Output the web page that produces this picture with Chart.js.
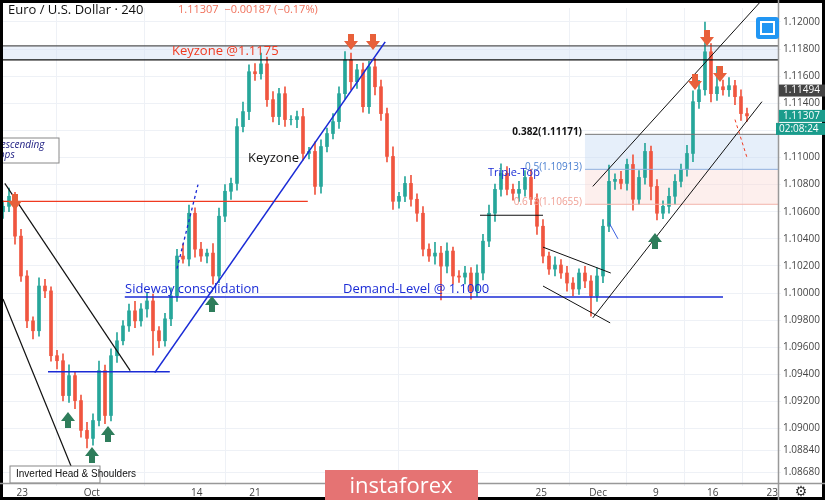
<!DOCTYPE html>
<html><head><meta charset="utf-8">
<script src="https://cdn.jsdelivr.net/npm/chart.js@4/dist/chart.umd.min.js"></script>
<style>html,body{margin:0;padding:0;background:#fff}#w{position:relative;width:825px;height:500px}</style>
</head><body><div id="w"><canvas id="c" width="825" height="500"></canvas></div>
<script>
// 12h-aggregated candles, Euro / U.S. Dollar
const firstOpen = 1.10600;
const closes = [1.10640,1.10714,1.10420,1.10126,1.09795,1.09722,1.10052,1.10016,1.09538,1.09501,
1.09244,1.09391,1.09207,1.08987,1.08928,1.09060,1.09428,1.09097,1.09538,1.09648,
1.09758,1.09869,1.09795,1.09883,1.09942,1.09722,1.09648,1.09810,1.09979,1.10273,
1.10251,1.10589,1.10324,1.10273,1.10295,1.10126,1.10567,1.10751,1.10809,1.11228,
1.11339,1.11633,1.11618,1.11691,1.11427,1.11302,1.11471,1.11280,1.11280,1.11302,
1.11030,1.11045,1.10787,1.11081,1.11177,1.11265,1.11471,1.11721,1.11559,1.11647,
1.11375,1.11669,1.11522,1.11324,1.11008,1.10677,1.10714,1.10809,1.10692,1.10589,
1.10324,1.10273,1.10295,1.10199,1.10310,1.10126,1.10118,1.10148,1.10016,1.10148,
1.10383,1.10589,1.10765,1.10883,1.10765,1.10736,1.10765,1.10853,1.10692,1.10493,
1.10273,1.10177,1.10207,1.10148,1.10074,1.10030,1.10148,1.10089,1.09979,1.10126,
1.10493,1.10824,1.10839,1.10809,1.10949,1.10692,1.10853,1.11045,1.10787,1.10589,
1.10640,1.10714,1.10824,1.10912,1.11030,1.11412,1.11500,1.11780,1.11471,1.11522,
1.11500,1.11530,1.11449,1.11324,1.11307];
// wick extensions in pips (0.0001)
const wickUp = [4,6,3,5,4,3,6,5,3,4, 5,8,3,4,6,5,7,4,5,6, 4,5,7,4,6,5,3,4,6,5, 9,6,4,5,3,7,6,5,4,6, 7,5,6,8,5,6,4,5,3,4, 6,3,7,5,4,6,5,6,5,4, 5,4,6,5,4,7,3,5,6,4, 5,4,8,5,6,3,4,5,4,6, 5,6,4,7,5,4,6,5,6,4, 5,3,6,4,5,4,3,5,4,6, 5,12,4,6,4,7,5,6,4,5, 4,6,5,4,6,8,7,22,6,15, 5,6,4,5,4];
const wickDn = [5,4,6,4,5,6,4,5,4,6, 4,5,6,5,7,5,4,6,4,5, 3,4,5,4,6,18,5,4,5,4, 3,5,6,4,5,6,5,4,6,5, 4,6,5,4,5,4,6,5,4,6, 5,4,6,5,4,4,5,4,6,5, 4,5,6,5,4,6,5,4,5,6, 5,4,6,25,5,6,4,5,6,4, 5,4,6,5,4,5,6,5,4,6, 5,4,5,4,6,5,4,5,15,4, 5,4,6,4,5,8,4,5,10,5, 4,5,6,4,5,6,5,4,6,5, 4,5,6,5,4];
const xTickPos = [3.2,14.8,32.3,42,89.7,99.2,108.8,118.3,128.2];
const xTickLabels = ['23','Oct','14','21','25','Dec','9','16','23'];
const yTicks = [1.12,1.118,1.116,1.114,1.112,1.11,1.108,1.106,1.104,1.102,1.1,1.098,1.096,1.094,1.092,1.09,1.0884,1.0868];

const opens = closes.map((c,i)=> i===0?firstOpen:closes[i-1]);
const up='#26a69a', dn='#f0553f';
const bodies = closes.map((c,i)=>({x:i,y:[opens[i],c]}));
const wicks = closes.map((c,i)=>({x:i,y:[Math.min(opens[i],c)-wickDn[i]*1e-4, Math.max(opens[i],c)+wickUp[i]*1e-4]}));
const cols = closes.map((c,i)=> c>=opens[i]?up:dn);

function arrow(ctx,x,y,down,color){
  ctx.save();ctx.fillStyle=color;ctx.beginPath();
  if(down){ctx.moveTo(x-3,y-16);ctx.lineTo(x+3,y-16);ctx.lineTo(x+3,y-9);ctx.lineTo(x+7,y-9);ctx.lineTo(x,y);ctx.lineTo(x-7,y-9);ctx.lineTo(x-3,y-9);}
  else{ctx.moveTo(x-3,y+16);ctx.lineTo(x+3,y+16);ctx.lineTo(x+3,y+9);ctx.lineTo(x+7,y+9);ctx.lineTo(x,y);ctx.lineTo(x-7,y+9);ctx.lineTo(x-3,y+9);}
  ctx.closePath();ctx.fill();ctx.restore();
}
const deco = {
  id:'deco',
  beforeDatasetsDraw(ch){
    const ctx=ch.ctx,xs=ch.scales.x,ys=ch.scales.y,X=v=>xs.getPixelForValue(v),Y=v=>ys.getPixelForValue(v);
    const L=ch.chartArea.left,R=ch.chartArea.right;
    ctx.save();
    ctx.fillStyle='rgba(210,225,245,0.45)';ctx.fillRect(L,Y(1.11824),R-L,Y(1.11721)-Y(1.11824));
    ctx.fillStyle='rgba(200,220,245,0.45)';ctx.fillRect(X(97),Y(1.11171),R-X(97),Y(1.10913)-Y(1.11171));
    ctx.fillStyle='rgba(250,215,210,0.4)';ctx.fillRect(X(97),Y(1.10913),R-X(97),Y(1.10655)-Y(1.10913));
    ctx.restore();
  },
  afterDatasetsDraw(ch){
    const ctx=ch.ctx,xs=ch.scales.x,ys=ch.scales.y,X=v=>xs.getPixelForValue(v),Y=v=>ys.getPixelForValue(v);
    const L=ch.chartArea.left,R=ch.chartArea.right,B=ch.chartArea.bottom;
    function line(x1,p1,x2,p2,col,w,dash){ctx.save();ctx.strokeStyle=col;ctx.lineWidth=w||1;ctx.setLineDash(dash||[]);ctx.beginPath();ctx.moveTo(X(x1),Y(p1));ctx.lineTo(X(x2),Y(p2));ctx.stroke();ctx.restore();}
    ctx.save();ctx.beginPath();ctx.rect(L,0,R-L,B);ctx.clip();
    line(-0.5,1.11824,129.2,1.11824,'#555',1.2);
    line(-0.5,1.11721,129.2,1.11721,'#111',1.2);
    line(-0.5,1.10677,50.8,1.10677,'#f03a20',1.3);
    line(0.3,1.10809,21.2,1.09428,'#111',1.2);
    line(0,1.09957,12.3,1.08619,'#111',1.2);
    line(7.5,1.0942,27.8,1.0942,'#1a2bd6',1.6);
    line(20.3,1.09971,120,1.09971,'#1a2bd6',1.6);
    line(25.3,1.09413,63.7,1.11853,'#1a2bd6',1.6);
    line(79.5,1.10574,90,1.10574,'#111',1.2);
    line(97,1.11171,129.2,1.11171,'#777',1);
    line(97,1.10913,129.2,1.10913,'#8fb0e0',1);
    line(97,1.10655,129.2,1.10655,'#f3b4ab',1);
    line(98.3,1.10787,126.2,1.12147,'#111',1);
    line(98.3,1.09817,126.5,1.11412,'#111',1);
    line(90,1.10339,101.3,1.10148,'#111',1);
    line(90,1.10052,101.2,1.0978,'#111',1);
    line(29,1.1018,32.5,1.1080,'#1a2bd6',1.3,[3,3]);
    line(101,1.1052,102.5,1.1040,'#3a5fe0',1);
    line(122,1.1128,124,1.1100,'#f03a20',1,[3,3]);
    ctx.font='13px "Open Sans",Arial';ctx.textBaseline='middle';
    ctx.fillStyle='#f03a20';ctx.fillText('Keyzone @1.1175',172,51);
    ctx.fillStyle='#111';ctx.fillText('Keyzone',248,158);
    ctx.fillStyle='#1a2bd6';ctx.fillText('Sideway consolidation',125,289);ctx.fillText('Demand-Level @ 1.1000',343,289);
    ctx.font='11px "Open Sans",Arial';ctx.fillText('Triple-Top',488,173);
    ctx.font='bold 10px "Open Sans",Arial';ctx.fillStyle='#111';ctx.textAlign='right';ctx.fillText('0.382(1.11171)',582,132);
    ctx.font='10px "Open Sans",Arial';ctx.fillStyle='#4a7fd0';ctx.fillText('0.5(1.10913)',582,167);
    ctx.fillStyle='#f0a095';ctx.fillText('0.618(1.10655)',582,202);
    ctx.textAlign='left';
    ctx.fillStyle='#fff';ctx.strokeStyle='#888';ctx.fillRect(-2,138,61,25);ctx.strokeRect(-2,138,61,25);
    ctx.fillStyle='#1a1a80';ctx.font='italic 10px "Open Sans",Arial';ctx.fillText('Descending',-6,145);ctx.fillText('Tops',-6,155);
    ctx.fillStyle='#fff';ctx.fillRect(10,466,90,17);ctx.strokeRect(10,466,90,17);
    ctx.fillStyle='#111';ctx.font='10px "Liberation Sans",Arial';ctx.fillText('Inverted Head & Shoulders',16,474);
    [[15,210],[351,50],[373,50],[707,46],[695,90],[720,82]].forEach(a=>arrow(ctx,a[0],a[1],true,'#e8603a'));
    [[68,412],[108,426],[92,447],[212,296],[655,233]].forEach(a=>arrow(ctx,a[0],a[1],false,'#2e7d5b'));
    ctx.restore();
    // frame, header
    ctx.save();
    ctx.fillStyle='#fff';ctx.fillRect(R+1,0,46,ch.chartArea.top+1);
    ctx.strokeStyle='#000';ctx.lineWidth=3;ctx.strokeRect(1.5,1.5,822,497);
    ctx.strokeStyle='#999';ctx.lineWidth=1.5;ctx.beginPath();ctx.moveTo(R+0.5,0);ctx.lineTo(R+0.5,500);ctx.moveTo(0,B+0.5);ctx.lineTo(825,B+0.5);ctx.stroke();
    ctx.font='13px "Open Sans",Arial';ctx.fillStyle='#111';ctx.textBaseline='middle';ctx.fillText('Euro / U.S. Dollar · 240',8,10);
    ctx.font='11px "Open Sans",Arial';ctx.fillStyle='#f0705a';ctx.fillText('1.11307  \u22120.00187 (\u22120.17%)',178,10);
    ctx.fillStyle='#2196f3';ctx.beginPath();ctx.roundRect(756,17,23,22,3);ctx.fill();
    ctx.strokeStyle='#fff';ctx.lineWidth=2;ctx.strokeRect(761,22,13,12);
    ctx.font='10px "Open Sans",Arial';
    [[1.11494,'#444','1.11494'],[1.11307,'#1a9c8c','1.11307']].forEach(t=>{const y=Y(t[0]);ctx.fillStyle=t[1];ctx.fillRect(R+1,y-6,46,12);ctx.fillStyle='#fff';ctx.fillText(t[2],R+5,y);});
    ctx.fillStyle='#1a9c8c';ctx.fillRect(R-2,Y(1.11307)+7,49,12);ctx.fillStyle='#fff';ctx.fillText('02:08:24',R+1,Y(1.11307)+13);
    ctx.fillStyle='#e57373';ctx.fillRect(325,470,153,30);
    ctx.fillStyle='#fff';ctx.font='22px "Open Sans",Arial';ctx.textAlign='center';ctx.fillText('instaforex',401,487);
    ctx.fillStyle='#333';ctx.font='14px "DejaVu Sans"';ctx.fillText('\u2699',801,492);
    ctx.restore();
  }
};
new Chart(document.getElementById('c'),{
  type:'bar',
  data:{datasets:[
    {data:wicks,backgroundColor:cols,barThickness:1,grouped:false,order:2},
    {data:bodies,backgroundColor:cols,barThickness:3,grouped:false,order:1}
  ]},
  options:{responsive:false,animation:false,events:[],
    layout:{padding:{left:0,top:0,right:0,bottom:0}},
    plugins:{legend:{display:false},tooltip:{enabled:false}},
    scales:{
      x:{type:'linear',min:-0.5,max:129.17,offset:false,
        afterBuildTicks:s=>{s.ticks=xTickPos.map(v=>({value:v}));},
        ticks:{autoSkip:false,maxRotation:0,color:'#444',font:{size:10,family:'"Open Sans"'},padding:1,callback:(v,i)=>xTickLabels[i]},
        grid:{color:'#eef1f6',tickLength:3,drawTicks:true},border:{display:false},
        afterFit:s=>{s.height=17;}},
      y:{position:'right',min:1.08599,max:1.12103,
        afterBuildTicks:s=>{s.ticks=yTicks.map(v=>({value:v}));},
        ticks:{autoSkip:false,color:'#444',font:{size:10,family:'"Open Sans"'},padding:2,callback:v=>v.toFixed(5)},
        grid:{color:'#eef1f6',tickLength:3},border:{display:false},
        afterFit:s=>{s.width=47;}}
    }},
  plugins:[deco]
});
</script></body></html>
